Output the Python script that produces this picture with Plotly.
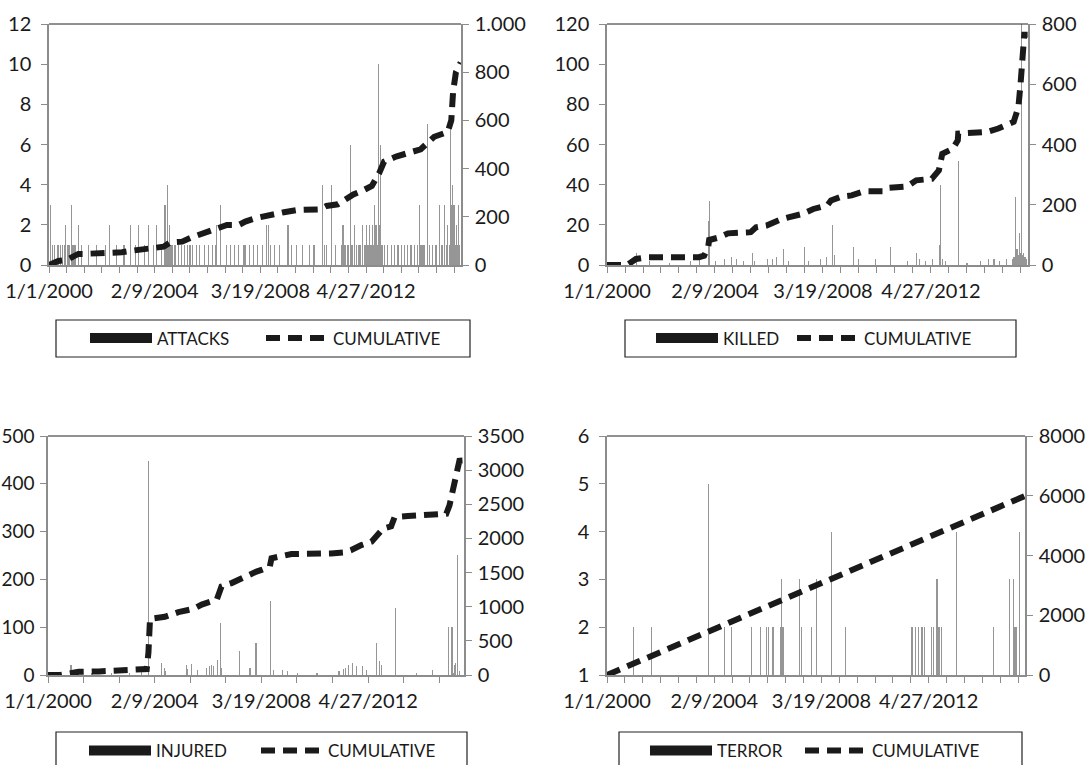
import plotly.graph_objects as go

# ---------------- DATA ----------------
ATTACK_DATES = [
    "2000-01-20", "2000-02-18", "2000-03-25", "2000-05-08", "2000-06-14", "2000-07-10", "2000-08-02",
    "2000-08-25", "2000-09-15", "2000-10-06", "2000-10-20", "2000-11-12", "2000-11-28", "2000-12-12",
    "2000-12-27", "2001-01-15", "2001-02-20", "2001-04-02", "2001-07-15", "2001-11-05", "2002-03-10",
    "2002-05-08", "2002-08-20", "2002-12-01", "2003-02-25", "2003-05-10", "2003-06-20", "2003-09-15",
    "2003-11-10", "2004-01-20", "2004-03-12", "2004-05-15", "2004-07-05", "2004-07-28", "2004-08-15",
    "2004-08-30", "2004-09-10", "2004-09-25", "2004-10-08", "2004-10-20", "2004-11-10", "2004-12-05",
    "2005-01-10", "2005-02-20", "2005-04-10", "2005-05-25", "2005-06-15", "2005-07-05", "2005-08-01",
    "2005-09-20", "2005-11-10", "2006-01-15", "2006-03-20", "2006-05-10", "2006-06-20", "2006-07-01",
    "2006-08-28", "2006-11-20", "2007-01-25", "2007-03-15", "2007-05-10", "2007-07-20", "2007-08-05",
    "2007-08-15", "2007-10-20", "2007-12-15", "2008-02-10", "2008-04-20", "2008-06-15", "2008-07-10",
    "2008-08-15", "2008-10-05", "2008-12-20", "2009-04-15", "2009-06-01", "2009-08-15", "2009-11-05",
    "2010-02-15", "2010-04-20", "2010-08-15", "2010-09-10", "2010-10-15", "2010-12-28", "2011-02-25",
    "2011-05-10", "2011-06-05", "2011-06-25", "2011-07-15", "2011-08-10", "2011-08-25", "2011-09-23",
    "2011-10-05", "2011-10-15", "2011-11-20", "2011-12-15", "2012-01-10", "2012-02-01", "2012-03-05",
    "2012-04-01", "2012-04-20", "2012-05-05", "2012-05-15", "2012-05-25", "2012-06-05", "2012-06-15",
    "2012-06-25", "2012-07-05", "2012-07-15", "2012-07-25", "2012-08-05", "2012-08-20", "2012-09-01",
    "2012-09-15", "2012-10-01", "2012-10-19", "2012-10-25", "2012-11-05", "2012-11-20", "2012-12-10",
    "2013-01-15", "2013-03-01", "2013-04-20", "2013-06-10", "2013-07-25", "2013-09-10", "2013-10-20",
    "2013-12-05", "2014-01-25", "2014-03-10", "2014-04-25", "2014-05-20", "2014-06-10", "2014-07-01",
    "2014-07-20", "2014-08-10", "2014-09-16", "2014-10-20", "2014-12-01", "2015-01-15", "2015-03-01",
    "2015-04-10", "2015-05-20", "2015-06-10", "2015-07-01", "2015-07-20", "2015-08-05", "2015-08-10",
    "2015-08-15", "2015-08-20", "2015-08-25", "2015-09-01", "2015-09-05", "2015-09-10", "2015-09-15",
    "2015-09-20", "2015-09-25", "2015-10-01", "2015-10-10", "2015-10-20", "2015-11-01", "2015-11-15",
    "2015-12-01", "2015-12-15",
]
ATTACKS = [
    3, 1, 1, 1, 1, 1, 1,
    2, 1, 1, 1, 3, 1, 1,
    1, 1, 2, 1, 1, 1, 1,
    2, 1, 1, 2, 1, 2, 1,
    2, 1, 2, 1, 3, 1, 4,
    1, 2, 1, 1, 1, 1, 1,
    1, 1, 1, 1, 1, 1, 1,
    1, 1, 1, 1, 1, 1, 2,
    3, 1, 1, 1, 1, 1, 1,
    1, 1, 1, 1, 1, 2, 2,
    1, 1, 1, 2, 1, 1, 1,
    1, 1, 4, 1, 1, 4, 1,
    1, 2, 1, 1, 1, 1, 6,
    1, 1, 2, 1, 1, 1, 2,
    1, 1, 2, 1, 1, 1, 2,
    1, 1, 1, 2, 1, 3, 1,
    2, 1, 10, 1, 2, 6, 1,
    1, 1, 1, 1, 1, 1, 1,
    1, 1, 1, 1, 3, 1, 1,
    1, 1, 7, 1, 1, 1, 3,
    1, 3, 1, 2, 1, 7, 5,
    4, 3, 2, 4, 3, 2, 3,
    1, 2, 1, 3, 1, 2, 1,
    3, 1,
]
ATTACK_CUM_DATES = [
    "2000-01-01", "2000-05-12", "2000-09-10", "2001-02-21", "2001-05-15", "2001-12-27", "2002-04-15",
    "2002-10-31", "2003-02-15", "2003-08-14", "2003-12-20", "2004-06-15", "2004-09-18", "2005-03-05",
    "2005-07-22", "2005-11-16", "2006-02-21", "2006-08-06", "2006-12-01", "2007-05-17", "2007-08-18",
    "2008-01-08", "2008-10-18", "2009-02-17", "2009-08-26", "2009-12-22", "2010-07-11", "2010-10-13",
    "2011-03-25", "2011-06-30", "2011-10-30", "2012-03-01", "2012-07-18", "2012-10-29", "2013-01-09",
    "2013-06-27", "2014-02-17", "2014-06-12", "2014-12-20", "2015-07-01", "2015-08-20", "2015-09-15",
    "2015-10-25", "2015-12-31",
]
ATTACK_CUM = [
    0, 17, 21, 46, 46, 48, 52,
    53, 58, 66, 73, 76, 94, 97,
    115, 127, 138, 155, 166, 166, 180,
    194, 214, 219, 228, 231, 231, 245,
    252, 270, 293, 307, 328, 380, 429,
    450, 466, 480, 532, 552, 600, 720,
    800, 840,
]

KILLED_DATES = [
    "2000-06-10", "2001-02-15", "2001-08-10", "2002-05-20", "2003-03-10", "2003-07-05", "2003-11-15",
    "2003-11-20", "2004-02-10", "2004-06-15", "2004-09-20", "2004-12-05", "2005-03-10", "2005-07-15",
    "2005-08-10", "2006-02-10", "2006-04-20", "2006-06-10", "2006-09-15", "2006-11-20", "2007-07-10",
    "2007-09-05", "2008-02-15", "2008-05-10", "2008-07-27", "2008-08-25", "2009-05-20", "2009-07-20",
    "2010-03-15", "2010-10-10", "2011-06-10", "2011-10-15", "2011-11-20", "2012-02-10", "2012-05-15",
    "2012-08-20", "2012-09-10", "2012-09-30", "2012-11-20", "2013-05-11", "2013-09-10", "2014-03-10",
    "2014-07-10", "2014-09-20", "2014-12-10", "2015-03-15", "2015-06-10", "2015-06-25", "2015-07-20",
    "2015-08-05", "2015-08-25", "2015-09-05", "2015-09-15", "2015-09-25", "2015-10-10", "2015-10-20",
    "2015-10-28", "2015-11-05", "2015-11-15", "2015-11-25", "2015-12-05", "2015-12-20",
]
KILLED = [
    1, 6, 2, 1, 2, 3, 22,
    32, 2, 3, 4, 3, 2, 6,
    2, 3, 3, 4, 8, 2, 9,
    2, 3, 4, 20, 5, 9, 3,
    3, 9, 2, 6, 3, 2, 3,
    10, 40, 3, 2, 52, 1, 2,
    3, 3, 2, 3, 3, 4, 34,
    8, 5, 16, 4, 6, 120, 5,
    4, 6, 3, 4, 2, 3,
]
KILLED_CUM_DATES = [
    "2000-01-01", "2000-07-01", "2000-10-08", "2001-02-06", "2001-08-01", "2002-10-15", "2003-07-01",
    "2003-09-12", "2003-11-06", "2003-11-20", "2004-04-12", "2004-08-08", "2005-06-20", "2005-09-01",
    "2006-01-25", "2006-08-28", "2007-06-12", "2007-11-06", "2008-05-18", "2008-07-08", "2008-11-28",
    "2009-04-22", "2009-10-12", "2010-07-01", "2010-09-12", "2011-06-03", "2011-10-05", "2012-05-08",
    "2012-08-15", "2012-10-01", "2013-02-24", "2013-05-05", "2013-05-11", "2014-06-25", "2014-11-18",
    "2015-06-20", "2015-08-25", "2015-09-24", "2015-10-20", "2015-11-14", "2015-12-31",
]
KILLED_CUM = [
    0, 0, 0, 20, 26, 26, 26,
    31, 59, 83, 92, 105, 109, 125,
    131, 153, 170, 186, 198, 214, 227,
    231, 245, 245, 256, 261, 281, 286,
    314, 369, 386, 414, 436, 442, 453,
    475, 525, 602, 691, 764, 764,
]

INJURED_DATES = [
    "2000-04-15", "2000-11-20", "2001-01-10", "2001-03-05", "2001-09-10", "2002-06-15", "2003-02-20",
    "2003-08-10", "2003-11-15", "2003-11-20", "2004-05-20", "2004-06-25", "2004-07-10", "2005-04-30",
    "2005-05-10", "2005-07-16", "2005-10-01", "2006-02-10", "2006-03-15", "2006-04-20", "2006-05-10",
    "2006-07-10", "2006-08-25", "2006-09-10", "2007-05-22", "2007-10-10", "2008-01-03", "2008-07-27",
    "2008-09-10", "2009-01-10", "2009-03-15", "2009-08-10", "2010-05-10", "2011-03-15", "2011-05-20",
    "2011-06-10", "2011-07-20", "2011-09-20", "2011-11-10", "2012-02-10", "2012-04-10", "2012-08-20",
    "2012-10-10", "2012-11-01", "2013-05-11", "2014-03-10", "2014-10-20", "2015-06-05", "2015-07-20",
    "2015-08-10", "2015-08-25", "2015-09-10", "2015-10-10", "2015-11-01",
]
INJURED = [
    5, 20, 8, 10, 3, 5, 4,
    10, 300, 448, 25, 15, 8, 20,
    12, 22, 10, 15, 18, 20, 18,
    32, 108, 15, 50, 15, 68, 155,
    10, 10, 8, 5, 3, 8, 12,
    15, 20, 25, 18, 18, 10, 66,
    30, 20, 140, 5, 10, 100, 100,
    5, 20, 25, 252, 8,
]
INJURED_CUM_DATES = [
    "2000-01-01", "2000-06-20", "2000-12-01", "2001-03-08", "2001-12-15", "2003-06-25", "2003-10-20",
    "2003-11-13", "2003-11-14", "2003-12-05", "2004-07-01", "2005-01-08", "2005-08-08", "2005-12-01",
    "2006-07-01", "2006-09-05", "2007-01-25", "2007-07-30", "2008-01-10", "2008-03-20", "2008-07-15",
    "2008-08-08", "2008-12-27", "2009-05-15", "2010-11-25", "2011-06-03", "2011-09-05", "2012-01-22",
    "2012-06-15", "2012-11-25", "2013-03-17", "2013-05-05", "2013-11-07", "2014-10-01", "2015-05-01",
    "2015-06-15", "2015-08-25", "2015-11-01", "2015-12-20",
]
INJURED_CUM = [
    0, 0, 29, 48, 53, 77, 87,
    329, 716, 823, 852, 920, 968, 1031,
    1104, 1297, 1346, 1443, 1515, 1539, 1588,
    1709, 1743, 1772, 1781, 1796, 1830, 1902,
    1951, 2145, 2178, 2314, 2328, 2353, 2362,
    2483, 2774, 3137, 3140,
]

TERROR_DATES = [
    "2001-01-01", "2001-09-20", "2003-11-15", "2003-11-20", "2004-07-08", "2004-10-05", "2005-07-12",
    "2005-11-15", "2006-02-08", "2006-03-05", "2006-05-12", "2006-08-22", "2006-09-05", "2006-09-28",
    "2007-05-20", "2007-06-12", "2007-10-30", "2008-01-08", "2008-08-06", "2009-02-20", "2011-08-28",
    "2011-09-20", "2011-10-30", "2011-12-01", "2012-01-25", "2012-03-03", "2012-06-05", "2012-06-28",
    "2012-08-22", "2012-09-05", "2012-09-30", "2012-10-22", "2013-05-18", "2014-10-16", "2015-06-05",
    "2015-07-22", "2015-07-30", "2015-08-14", "2015-08-28", "2015-09-06", "2015-10-15",
]
TERROR = [
    2, 2, 4, 5, 2, 2, 2,
    2, 2, 2, 2, 2, 3, 2,
    3, 2, 2, 3, 4, 2, 2,
    2, 2, 2, 2, 2, 2, 2,
    3, 2, 2, 2, 4, 2, 3,
    3, 2, 2, 2, 2, 4,
]
TERROR_CUM_DATES = ["2000-01-01", "2008-01-01", "2015-12-31"]
TERROR_CUM = [0, 2990, 5990]

BAR_NAMES = ["ATTACKS", "KILLED", "INJURED", "TERROR"]
LINE_NAME = "CUMULATIVE"

LEFT_RANGES = [[0, 12], [0, 120], [0, 500], [1, 6]]
LEFT_DTICKS = [2, 20, 100, 1]
RIGHT_TICKVALS = [
    [0, 200, 400, 600, 800, 1000],
    [0, 200, 400, 600, 800],
    [0, 500, 1000, 1500, 2000, 2500, 3000, 3500],
    [0, 2000, 4000, 6000, 8000],
]
RIGHT_TICKTEXT = [
    ["0", "200", "400", "600", "800", "1.000"],
    ["0", "200", "400", "600", "800"],
    ["0", "500", "1000", "1500", "2000", "2500", "3000", "3500"],
    ["0", "2000", "4000", "6000", "8000"],
]
RIGHT_RANGES = [[0, 1000], [0, 800], [0, 3500], [0, 8000]]

X_START = "2000-01-01"
X_END = "2016-01-05"
LABEL_DAYS = 1500
MINOR_DAYS = [250, 250, 500, 250]

# ---------------- LAYOUT (pixels) ----------------
W, H = 1086, 765
DAY_MS = 86400000
FONT = "Lato"
TXT = "#1a1a1a"
AXC = "#8c8c8c"
BARC = "#969696"

# plot areas: (left, right, top, bottom)
AREAS = [(49, 461, 24, 265), (607, 1028, 24, 265), (48, 464, 436, 675), (607, 1025, 436, 675)]
# legend boxes: (left, right, top, bottom)
BOXES = [(56, 470, 320, 357), (625, 1016, 320, 357), (56, 467, 732, 770), (619, 1022, 732, 770)]
# legend first item start x, first entry width, center y
LEG = [(85, 99, 338.5), (651, 64, 338.5), (84, 95, 751), (645, 78, 751)]
LEFT_STANDOFF = [6, 6, 2, 6]
LEFT_FONT = [20, 20, 19, 20]


def fx(p):
    return p / W


def fy(p):
    return 1 - p / H


bars = [(ATTACK_DATES, ATTACKS), (KILLED_DATES, KILLED), (INJURED_DATES, INJURED), (TERROR_DATES, TERROR)]
cums = [(ATTACK_CUM_DATES, ATTACK_CUM), (KILLED_CUM_DATES, KILLED_CUM),
        (INJURED_CUM_DATES, INJURED_CUM), (TERROR_CUM_DATES, TERROR_CUM)]

fig = go.Figure()
layout = dict(
    width=W, height=H, margin=dict(l=0, r=0, t=0, b=0, autoexpand=False),
    paper_bgcolor="white", plot_bgcolor="white",
    hovermode=False, showlegend=True, bargap=0,
    font=dict(family=FONT, color=TXT),
)
shapes = []

for i in range(4):
    xa = "x" if i == 0 else f"x{i + 1}"
    yl = "y" if i == 0 else f"y{2 * i + 1}"
    yr = f"y{2 * i + 2}"
    leg = "legend" if i == 0 else f"legend{i + 1}"
    l, r, t, b = AREAS[i]
    lx, ew, ly = LEG[i]

    fig.add_trace(go.Bar(
        x=bars[i][0], y=bars[i][1], width=DAY_MS * 1.5,
        marker=dict(color=BARC, line=dict(width=0)),
        xaxis=xa, yaxis=yl, showlegend=False,
    ))
    # legend swatch for the bar series
    fig.add_trace(go.Scatter(
        x=[None], y=[None], mode="lines", name=BAR_NAMES[i],
        line=dict(color=TXT, width=10), xaxis=xa, yaxis=yl, legend=leg, legendwidth=ew,
    ))
    fig.add_trace(go.Scatter(
        x=cums[i][0], y=cums[i][1], mode="lines", name=LINE_NAME,
        line=dict(color=TXT, width=6, dash="14px,8px"),
        xaxis=xa, yaxis=yr, legend=leg, legendwidth=140,
    ))

    xkey = "xaxis" if i == 0 else f"xaxis{i + 1}"
    ylkey = "yaxis" if i == 0 else f"yaxis{2 * i + 1}"
    yrkey = f"yaxis{2 * i + 2}"
    tickfont = dict(family=FONT, size=20, color=TXT)

    layout[xkey] = dict(
        type="date", domain=[fx(l), fx(r)], anchor=yl,
        range=[X_START, X_END], tick0=X_START, dtick=LABEL_DAYS * DAY_MS,
        tickformat="%-m/%-d/%Y", ticks="outside", ticklen=6, tickcolor=AXC, tickwidth=1,
        minor=dict(dtick=MINOR_DAYS[i] * DAY_MS, tick0=X_START, ticks="outside",
                   ticklen=6, tickcolor=AXC, tickwidth=1, showgrid=False),
        showgrid=False, zeroline=False, showline=True, linecolor=AXC, linewidth=1.5,
        tickfont=tickfont, ticklabelstandoff=1, automargin=False,
    )
    layout[ylkey] = dict(
        domain=[fy(b), fy(t)], anchor=xa, range=LEFT_RANGES[i], dtick=LEFT_DTICKS[i],
        ticks="outside", ticklen=6, tickcolor=AXC, tickwidth=1,
        showgrid=False, zeroline=False, showline=True, linecolor=AXC, linewidth=1.5,
        tickfont=dict(family=FONT, size=LEFT_FONT[i], color=TXT),
        ticklabelstandoff=LEFT_STANDOFF[i], automargin=False,
    )
    layout[yrkey] = dict(
        overlaying=yl, anchor=xa, side="right", range=RIGHT_RANGES[i],
        tickmode="array", tickvals=RIGHT_TICKVALS[i], ticktext=RIGHT_TICKTEXT[i],
        ticks="outside", ticklen=6, tickcolor=AXC, tickwidth=1,
        showgrid=False, zeroline=False, showline=True, linecolor=AXC, linewidth=1.5,
        tickfont=tickfont, ticklabelstandoff=2, automargin=False,
    )
    layout[leg] = dict(
        orientation="h", x=fx(lx), xanchor="left", y=fy(ly), yanchor="middle",
        itemwidth=62, bgcolor="rgba(0,0,0,0)", borderwidth=0,
        font=dict(family=FONT, size=17, color=TXT), itemclick=False, itemdoubleclick=False,
        traceorder="normal",
    )
    # top border of plot area
    shapes.append(dict(type="line", xref=f"{xa} domain", yref=f"{yl} domain",
                       x0=0, x1=1, y0=1, y1=1, line=dict(color="#222", width=1)))
    bl, br, bt, bb = BOXES[i]
    shapes.append(dict(type="rect", xref="paper", yref="paper",
                       x0=fx(bl), x1=fx(br), y0=fy(bb), y1=fy(bt),
                       line=dict(color="#222", width=1.2), fillcolor="rgba(0,0,0,0)"))

layout["shapes"] = shapes
fig.update_layout(**layout)
fig.write_html(
    "out.html",
    config={"displayModeBar": False, "staticPlot": False},
    post_script="document.body.style.margin='0px';document.body.style.overflow='hidden';",
)
